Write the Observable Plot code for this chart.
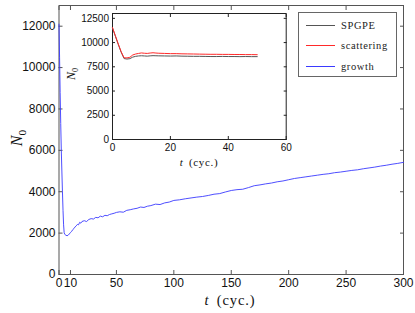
<!DOCTYPE html>
<html>
<head>
<meta charset="utf-8">
<script src="https://cdn.jsdelivr.net/npm/d3@7"></script>
<script src="https://cdn.jsdelivr.net/npm/@observablehq/plot@0.6"></script>
<style>
  html, body { margin: 0; padding: 0; background: #fff; }
  #wrap { position: relative; width: 415px; height: 313px; overflow: hidden; }
  #wrap svg { position: absolute; left: 0; top: 0; background: transparent; }
  #legend { position: absolute; left: 298px; top: 12px; width: 99px; height: 65px; border: 1px solid #666; background: #fff; box-sizing: border-box; font-family: "Liberation Serif", "DejaVu Serif", serif; font-size: 10.5px; letter-spacing: 0.6px; color: #222; }
  #legend .row { position: absolute; left: 7px; height: 12px; display: flex; align-items: center; }
  #legend .sw { width: 29px; height: 0; border-top: 1px solid; margin-right: 6px; }
</style>
</head>
<body>
<div id="wrap"></div>
<script>
// ---- Main chart data (growth) ----
const growthT = [0, 0.5, 1, 1.5, 2, 2.5, 3, 3.5, 4, 4.5, 5, 6, 7, 8, 9, 10, 11, 12, 13, 14, 15, 16, 17, 18, 19, 20, 22, 24, 26, 28, 30, 32, 34, 36, 38, 40, 42, 44, 46, 48, 50, 53, 56, 59, 62, 65, 68, 71, 74, 77, 80, 84, 88, 92, 96, 100, 105, 110, 115, 120, 125, 130, 135, 140, 145, 150, 155, 160, 165, 170, 175, 180, 185, 190, 195, 200, 205, 210, 215, 220, 225, 230, 235, 240, 245, 250, 255, 260, 265, 270, 275, 280, 285, 290, 295, 300];
const growthN = [12100, 10500, 8800, 7300, 6000, 5000, 4000, 3100, 2400, 2020, 1940, 1900, 1870, 1900, 1960, 2030, 2080, 2170, 2220, 2300, 2350, 2420, 2400, 2520, 2480, 2560, 2600, 2560, 2660, 2700, 2680, 2760, 2740, 2820, 2790, 2860, 2840, 2900, 2930, 2960, 3000, 3030, 3010, 3100, 3130, 3170, 3200, 3260, 3240, 3300, 3330, 3400, 3380, 3460, 3500, 3580, 3610, 3660, 3700, 3740, 3770, 3820, 3880, 3910, 3990, 4060, 4100, 4120, 4200, 4290, 4330, 4380, 4420, 4480, 4520, 4580, 4640, 4680, 4720, 4760, 4800, 4840, 4870, 4920, 4950, 4990, 5030, 5060, 5110, 5150, 5190, 5240, 5280, 5330, 5370, 5420];
const mainXTicks = [0, 10, 50, 100, 150, 200, 250, 300];
const mainYTicks = [0, 2000, 4000, 6000, 8000, 10000, 12000];

// ---- Inset data ----
const insetT = [0, 1, 2, 3, 4, 5, 6, 7, 8, 9, 10, 11, 12, 13, 14, 15, 16, 18, 20, 22, 24, 26, 28, 30, 32, 34, 36, 38, 40, 42, 44, 46, 48, 50];
const spgpeN = [11500, 10650, 9800, 9000, 8350, 8300, 8340, 8500, 8580, 8620, 8640, 8620, 8600, 8630, 8650, 8640, 8630, 8620, 8610, 8620, 8600, 8590, 8580, 8580, 8570, 8560, 8560, 8570, 8560, 8560, 8550, 8560, 8550, 8550];
const scatterN = [11550, 10700, 9850, 9050, 8430, 8420, 8480, 8720, 8820, 8880, 8930, 8900, 8880, 8920, 8950, 8920, 8900, 8880, 8860, 8860, 8840, 8830, 8820, 8810, 8800, 8790, 8790, 8780, 8780, 8770, 8770, 8760, 8760, 8750];
const insetXTicks = [0, 20, 40, 60];
const insetYTicks = [0, 2500, 5000, 7500, 10000, 12500];

const seriesNames = ["SPGPE", "scattering", "growth"];
const seriesColors = ["#555555", "#ff2a2a", "#3a3aff"];

const growth = growthT.map((t, i) => ({t, n: growthN[i]}));
const inset = [];
insetT.forEach((t, i) => inset.push({t, n: spgpeN[i], s: seriesNames[0]}));
insetT.forEach((t, i) => inset.push({t, n: scatterN[i], s: seriesNames[1]}));

const tickFont = '"Liberation Sans", Arial, sans-serif';
const frameColor = "#555";

const main = Plot.plot({
  width: 415, height: 313,
  marginLeft: 58.5, marginRight: 12, marginTop: 5, marginBottom: 39,
  style: {fontFamily: tickFont, fontSize: "12px", color: "#111", background: "transparent"},
  x: {domain: [0, 300], label: null},
  y: {domain: [0, 13000], label: null},
  marks: [
    Plot.frame({stroke: frameColor, strokeWidth: 1}),
    Plot.axisX(mainXTicks, {anchor: "bottom", tickSize: -4, tickPadding: 8, stroke: frameColor, fill: "#111", tickFormat: d => String(d)}),
    Plot.axisX(mainXTicks, {anchor: "top", tickSize: -4, stroke: frameColor, tickFormat: () => ""}),
    Plot.axisY(mainYTicks, {anchor: "left", tickSize: -4, tickPadding: 7.5, stroke: frameColor, fill: "#111", tickFormat: d => String(d)}),
    Plot.axisY(mainYTicks, {anchor: "right", tickSize: -4, stroke: frameColor, tickFormat: () => ""}),
    Plot.line(growth, {x: "t", y: "n", stroke: seriesColors[2], strokeWidth: 0.9})
  ]
});

const ins = Plot.plot({
  width: 415, height: 313,
  marginLeft: 112, marginRight: 129.3, marginTop: 13, marginBottom: 174,
  style: {fontFamily: tickFont, fontSize: "10px", color: "#111", background: "transparent"},
  x: {domain: [0, 60], label: null},
  y: {domain: [0, 13000], label: null},
  color: {domain: seriesNames, range: seriesColors},
  marks: [
    Plot.frame({stroke: "#222", strokeWidth: 1, fill: "white"}),
    Plot.axisX(insetXTicks, {anchor: "bottom", tickSize: -3, tickPadding: 7, stroke: "#222", fill: "#111", tickFormat: d => String(d)}),
    Plot.axisX(insetXTicks, {anchor: "top", tickSize: -3, stroke: "#222", tickFormat: () => ""}),
    Plot.axisY(insetYTicks, {anchor: "left", tickSize: -3, tickPadding: 6.5, stroke: "#222", fill: "#111", tickFormat: d => String(d)}),
    Plot.axisY(insetYTicks, {anchor: "right", tickSize: -3, stroke: "#222", tickFormat: () => ""}),
    Plot.line(inset, {x: "t", y: "n", z: "s", stroke: "s", strokeWidth: 1})
  ]
});

const wrap = document.getElementById("wrap");
wrap.appendChild(main);
wrap.appendChild(ins);

// Axis titles (LaTeX-like serif italic)
function nLabel(svg, x, y, size) {
  const t = d3.select(svg).append("text")
    .attr("transform", `translate(${x},${y}) rotate(-90)`)
    .attr("text-anchor", "middle")
    .attr("font-family", '"Liberation Serif", "DejaVu Serif", serif')
    .attr("font-size", size)
    .attr("fill", "#111");
  t.append("tspan").attr("font-style", "italic").text("N");
  t.append("tspan").attr("font-size", size * 0.7).attr("dy", size * 0.22).text("0");
}
function tLabel(svg, x, y, size) {
  const t = d3.select(svg).append("text")
    .attr("x", x).attr("y", y)
    .attr("text-anchor", "middle")
    .attr("font-family", '"Liberation Serif", "DejaVu Serif", serif')
    .attr("font-size", size)
    .attr("fill", "#111");
  t.append("tspan").attr("font-style", "italic").text("t");
  t.append("tspan").attr("letter-spacing", size * 0.06).text("\u2002(cyc.)");
}
nLabel(main, 22, 138, 16);
tLabel(main, 230, 305, 14.5);
nLabel(ins, 75, 74, 12);
tLabel(ins, 199, 166, 11);

// Legend
const leg = document.createElement("div");
leg.id = "legend";
const rowsY = [24, 44, 65];
seriesNames.forEach((name, i) => {
  const row = document.createElement("div");
  row.className = "row";
  row.style.top = (rowsY[i] - 12 - 6) + "px";
  const sw = document.createElement("div");
  sw.className = "sw";
  sw.style.borderTopColor = seriesColors[i];
  const lab = document.createElement("span");
  lab.textContent = name;
  row.appendChild(sw);
  row.appendChild(lab);
  leg.appendChild(row);
});
wrap.appendChild(leg);
</script>
</body>
</html>
